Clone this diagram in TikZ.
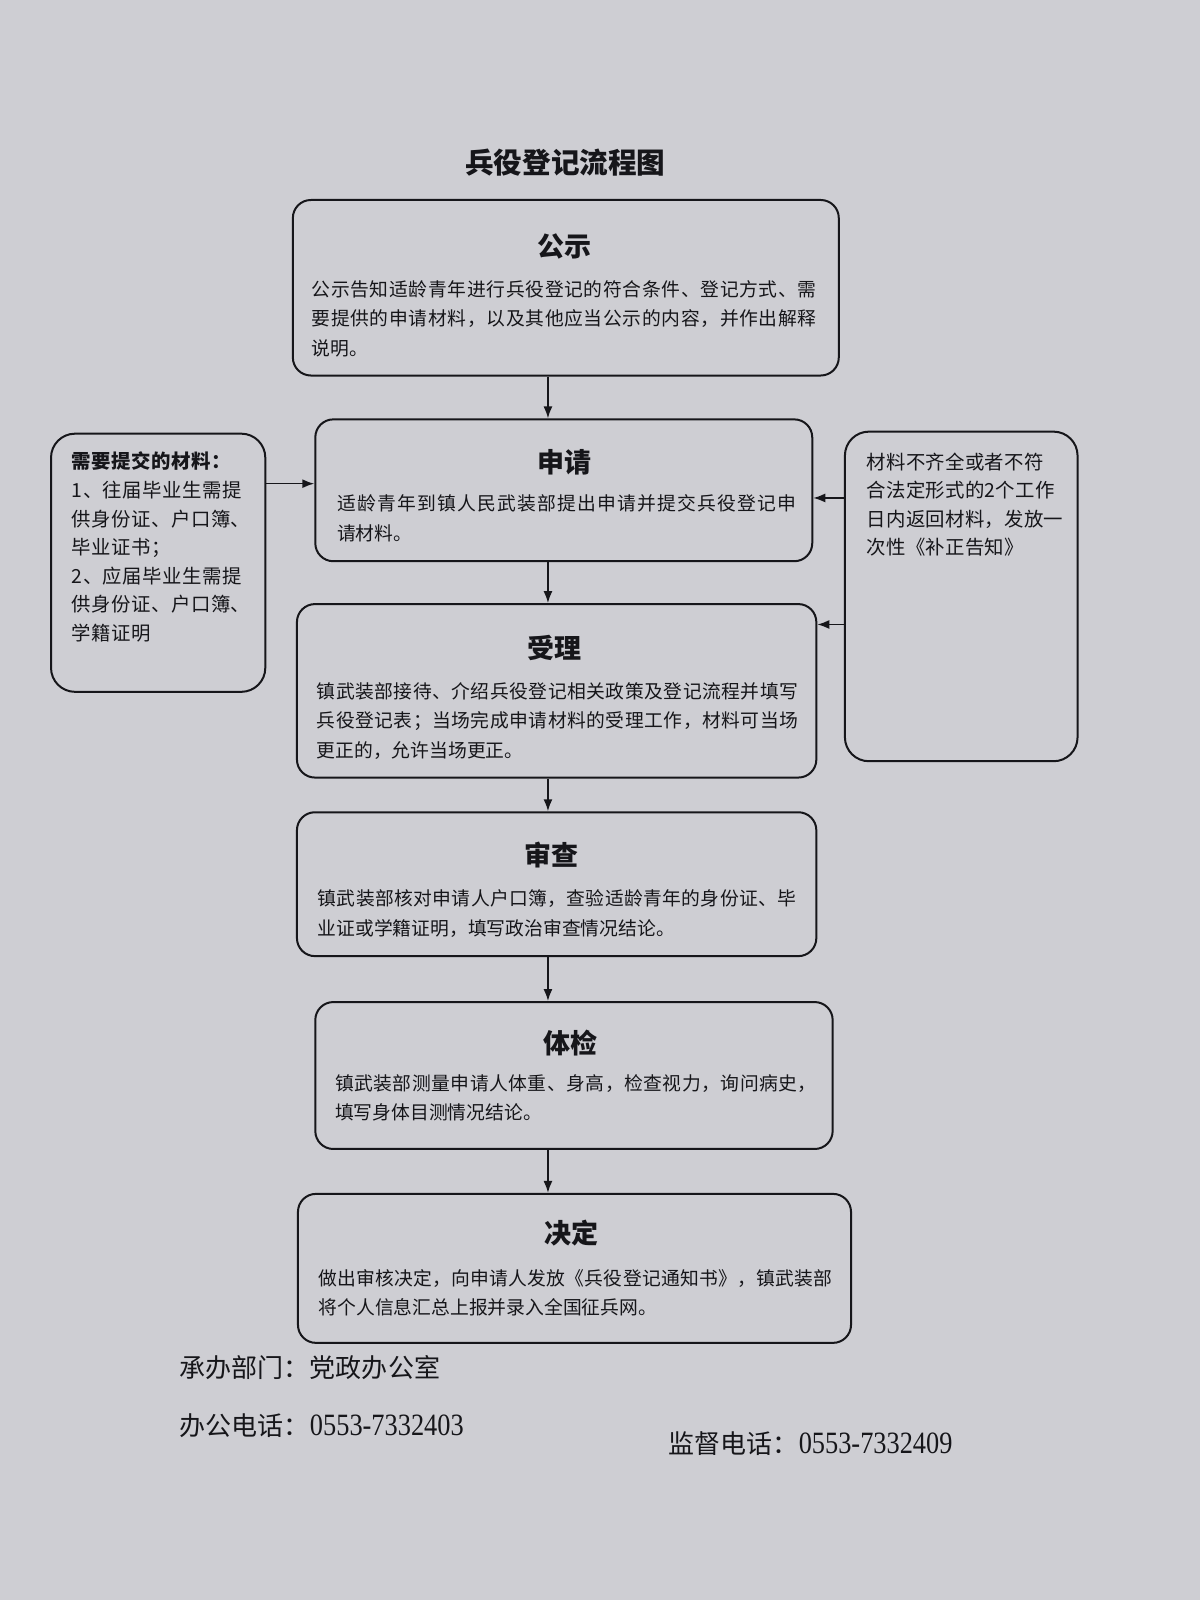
\documentclass[tikz,border=0pt]{standalone}
\usepackage{fontspec}
\setmainfont{Noto Sans CJK SC}
\newfontfamily\leftfont[LetterSpace=2.5]{Noto Sans CJK SC}
\newfontfamily\rightfont[LetterSpace=1.5]{Noto Sans CJK SC}
\newfontfamily\digfont[FakeStretch=0.85]{Liberation Serif}
\usetikzlibrary{arrows.meta}
\definecolor{paper}{RGB}{206,206,211}
\definecolor{ink}{RGB}{22,22,26}
\def\sprA#1{#1\sprB}
\def\sprB#1{\ifx#1\sprEnd\else\hfil#1\expandafter\sprB\fi}
\def\sprEnd{\sprEnd}
\newcommand\spreadln[2]{\makebox[#1][s]{\sprA#2\sprEnd}}
\tikzset{
  sz/.style 2 args={minimum width={#1*0.5102pt},minimum height={#2*0.5102pt}},
  box/.style={draw=ink, line width=1pt, rounded corners=9pt, inner sep=0pt},
  sidebox/.style={box, rounded corners=12pt},
  ttl/.style={font=\fontsize{13.5}{16}\selectfont\bfseries, text=ink, inner sep=0pt},
  body/.style={font=\fontsize{9.4}{14.8}\selectfont, text=ink, align=left, inner sep=0pt, anchor=north west},
  lside/.style={font=\leftfont\fontsize{9.7}{14.29}\selectfont, text=ink, align=left, inner sep=0pt, anchor=north west},
  rside/.style={font=\rightfont\fontsize{9.7}{14.13}\selectfont, text=ink, align=left, inner sep=0pt, anchor=north west},
  foot/.style={font=\fontsize{13}{16}\selectfont, text=ink, inner sep=0pt, anchor=west},
  arr/.style={draw=ink, line width=0.8pt, -{Latex[length=6pt,width=4.5pt]}},
}
\newcommand\dig[1]{{\digfont\fontsize{15.5}{16}\selectfont #1}}
\begin{document}
\begin{tikzpicture}[x=0.5102pt,y=-0.5102pt]
\fill[paper] (0,0) rectangle (1176,1568);
\useasboundingbox (0,0) rectangle (1176,1568);

\node[font=\fontsize{14.3}{17}\selectfont\bfseries, text=ink, inner sep=0pt] (title) at (554,159) {兵役登记流程图};

% boxes
\node[box, sz={535}{172}] (gs) at (554.5,282) {};
\node[box, sz={487}{139}] (sq) at (552.5,480.5) {};
\node[box, sz={509}{170}] (sl) at (545.5,677) {};
\node[box, sz={509}{141}] (sc) at (545.5,866.5) {};
\node[box, sz={507}{144}] (tj) at (562.5,1054) {};
\node[box, sz={542}{146}] (jd) at (563,1243) {};
\node[sidebox, sz={210}{253}] (cl) at (155,551.5) {};
\node[sidebox, sz={228}{323}] (bz) at (942,584.5) {};

% titles
\node[ttl] (gsH) at (553,242) {公示};
\node[ttl] (sqH) at (553,453) {申请};
\node[ttl] (slH) at (543,635) {受理};
\node[ttl] (scH) at (540,838) {审查};
\node[ttl] (tjH) at (559,1022) {体检};
\node[ttl] (jdH) at (560,1208) {决定};

% bodies
\node[body] (gsT) at (305,271.6) {\rule{0pt}{1em}\spreadln{252.5pt}{公示告知适龄青年进行兵役登记的符合条件、登记方式、需}\\
\spreadln{252.5pt}{要提供的申请材料，以及其他应当公示的内容，并作出解释}\\说明。};
\node[body] (sqT) at (330,481.6) {\rule{0pt}{1em}\spreadln{229.6pt}{适龄青年到镇人民武装部提出申请并提交兵役登记申}\\请材料。};
\node[body] (slT) at (310,665.6) {\rule{0pt}{1em}\spreadln{240.8pt}{镇武装部接待、介绍兵役登记相关政策及登记流程并填写}\\
\spreadln{240.8pt}{兵役登记表；当场完成申请材料的受理工作，材料可当场}\\更正的，允许当场更正。};
\node[body] (scT) at (311,868.6) {\rule{0pt}{1em}\spreadln{239.3pt}{镇武装部核对申请人户口簿，查验适龄青年的身份证、毕}\\业证或学籍证明，填写政治审查情况结论。};
\node[body] (tjT) at (328,1049.6) {\rule{0pt}{1em}\spreadln{240.8pt}{镇武装部测量申请人体重、身高，检查视力，询问病史，}\\填写身体目测情况结论。};
\node[body] (jdT) at (312,1240.6) {\rule{0pt}{1em}\spreadln{256.6pt}{做出审核决定，向申请人发放《兵役登记通知书》，镇武装部}\\将个人信息汇总上报并录入全国征兵网。};

\node[lside] (clT) at (70,440.2) {\rule{0pt}{1em}{\bfseries 需要提交的材料：}\\1、往届毕业生需提\\供身份证、户口簿、\\毕业证书；\\2、应届毕业生需提\\供身份证、户口簿、\\学籍证明};
\node[rside] (bzT) at (849,440.8) {\rule{0pt}{1em}材料不齐全或者不符\\合法定形式的2个工作\\日内返回材料，发放一\\次性《补正告知》};

% connectors
\coordinate (ax) at (537,0);
\draw[arr] (gs.south -| ax) -- (sq.north -| ax);
\draw[arr] (sq.south -| ax) -- (sl.north -| ax);
\draw[arr] (sl.south -| ax) -- (sc.north -| ax);
\draw[arr] (sc.south -| ax) -- (tj.north -| ax);
\draw[arr] (tj.south -| ax) -- (jd.north -| ax);
\coordinate (ly) at (0,474);
\coordinate (r1) at (0,488);
\coordinate (r2) at (0,612);
\draw[arr] (cl.east |- ly) -- (sq.west |- ly);
\draw[arr] (bz.west |- r1) -- (sq.east |- r1);
\draw[arr] (bz.west |- r2) -- (sl.east |- r2);

% footer
\node[foot] (f1) at (176,1340) {承办部门：党政办公室};
\node[foot] (f2) at (176,1397) {办公电话：\dig{0553-7332403}};
\node[foot] (f3) at (655,1415) {监督电话：\dig{0553-7332409}};
\end{tikzpicture}
\end{document}
